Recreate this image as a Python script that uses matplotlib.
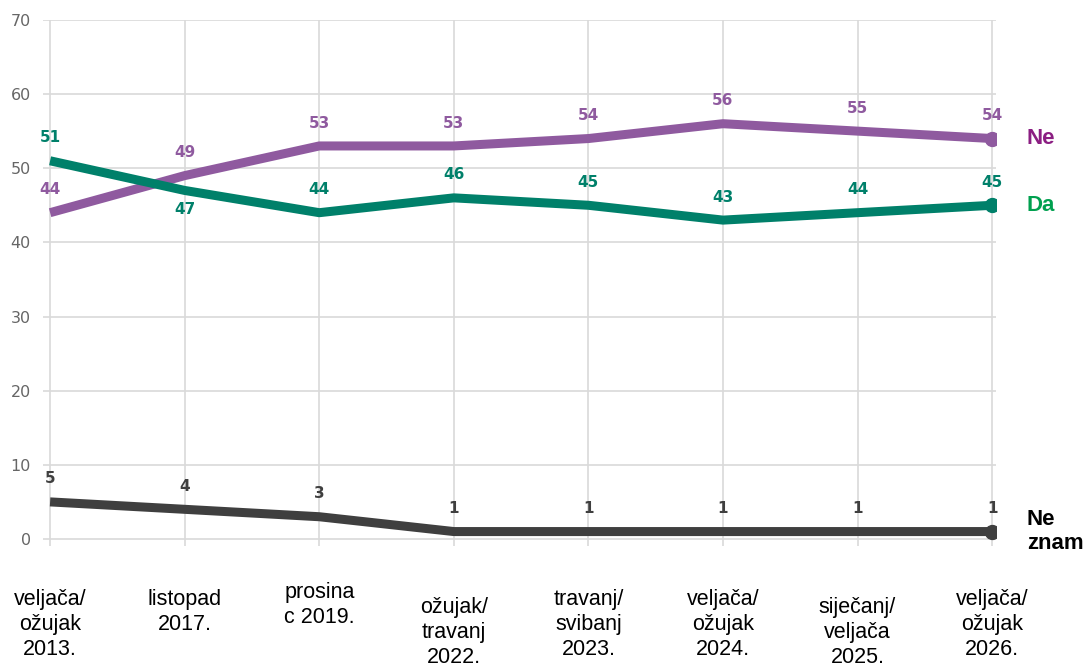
import matplotlib
matplotlib.use("Agg")
import matplotlib.pyplot as plt

# survey waves
categories = [
    "veljača/\nožujak\n2013.",
    "listopad\n2017.",
    "prosina\nc 2019.",
    "ožujak/\ntravanj\n2022.",
    "travanj/\nsvibanj\n2023.",
    "veljača/\nožujak\n2024.",
    "siječanj/\nveljača\n2025.",
    "veljača/\nožujak\n2026.",
]
ne_values = [44, 49, 53, 53, 54, 56, 55, 54]
da_values = [51, 47, 44, 46, 45, 43, 44, 45]
neznam_values = [5, 4, 3, 1, 1, 1, 1, 1]

PURPLE = "#8f5a9f"
GREEN = "#00806a"
DARK = "#3f3f3f"

fig = plt.figure(figsize=(10.84, 6.63), dpi=100)
ax = fig.add_axes([0.040, 0.177, 0.879, 0.793])

xs = list(range(len(categories)))

series = [
    (ne_values, PURPLE, "Ne", "#8b1e82"),
    (da_values, GREEN, "Da", "#00a04f"),
    (neznam_values, DARK, "Ne\nznam", "black"),
]

for vals, color, name, name_color in series:
    ax.plot(xs, vals, color=color, linewidth=6.5, solid_joinstyle="round",
            solid_capstyle="butt", zorder=3)
    ax.plot(xs[-1], vals[-1], "o", color=color, markersize=10, zorder=4)
    for i, v in enumerate(vals):
        # green label at the crossing goes under the line
        dy = -14 if (color == GREEN and i == 1) else 16.5
        ax.annotate(str(v), (i, v), xytext=(0, dy), textcoords="offset points",
                    ha="center", va="center", fontsize=11, fontweight="bold",
                    color=color, zorder=5)
    ax.annotate(name, (xs[-1], vals[-1]), xytext=(25, 0), textcoords="offset points",
                ha="left", va="center", fontsize=16, fontweight="bold",
                color=name_color, family="Liberation Sans", linespacing=1.15,
                annotation_clip=False)

ax.set_xlim(-0.05, 7.03)
ax.set_ylim(-0.9, 70)
ax.set_yticks(range(0, 71, 10))
ax.set_xticks(xs)
ax.set_xticklabels([])
ax.grid(True, color="#d9d9d9", linewidth=1.2, zorder=0)
ax.set_axisbelow(True)
for s in ax.spines.values():
    s.set_visible(False)
ax.tick_params(axis="both", length=0)
ax.tick_params(axis="y", pad=9, labelsize=11.5, labelcolor="#666666")

# category labels below the axis, some dropped a little lower
label_drop = [0, 0, -5, 6, 0, 0, 6, 0]
for i, (lab, d) in enumerate(zip(categories, label_drop)):
    ax.annotate(lab, (i, 0), xycoords=("data", "axes fraction"),
                xytext=(0, -31 - d), textcoords="offset points",
                ha="center", va="top", fontsize=15.5, family="Liberation Sans",
                linespacing=1.25, color="black", annotation_clip=False)

fig.savefig("out.png", dpi=100)
